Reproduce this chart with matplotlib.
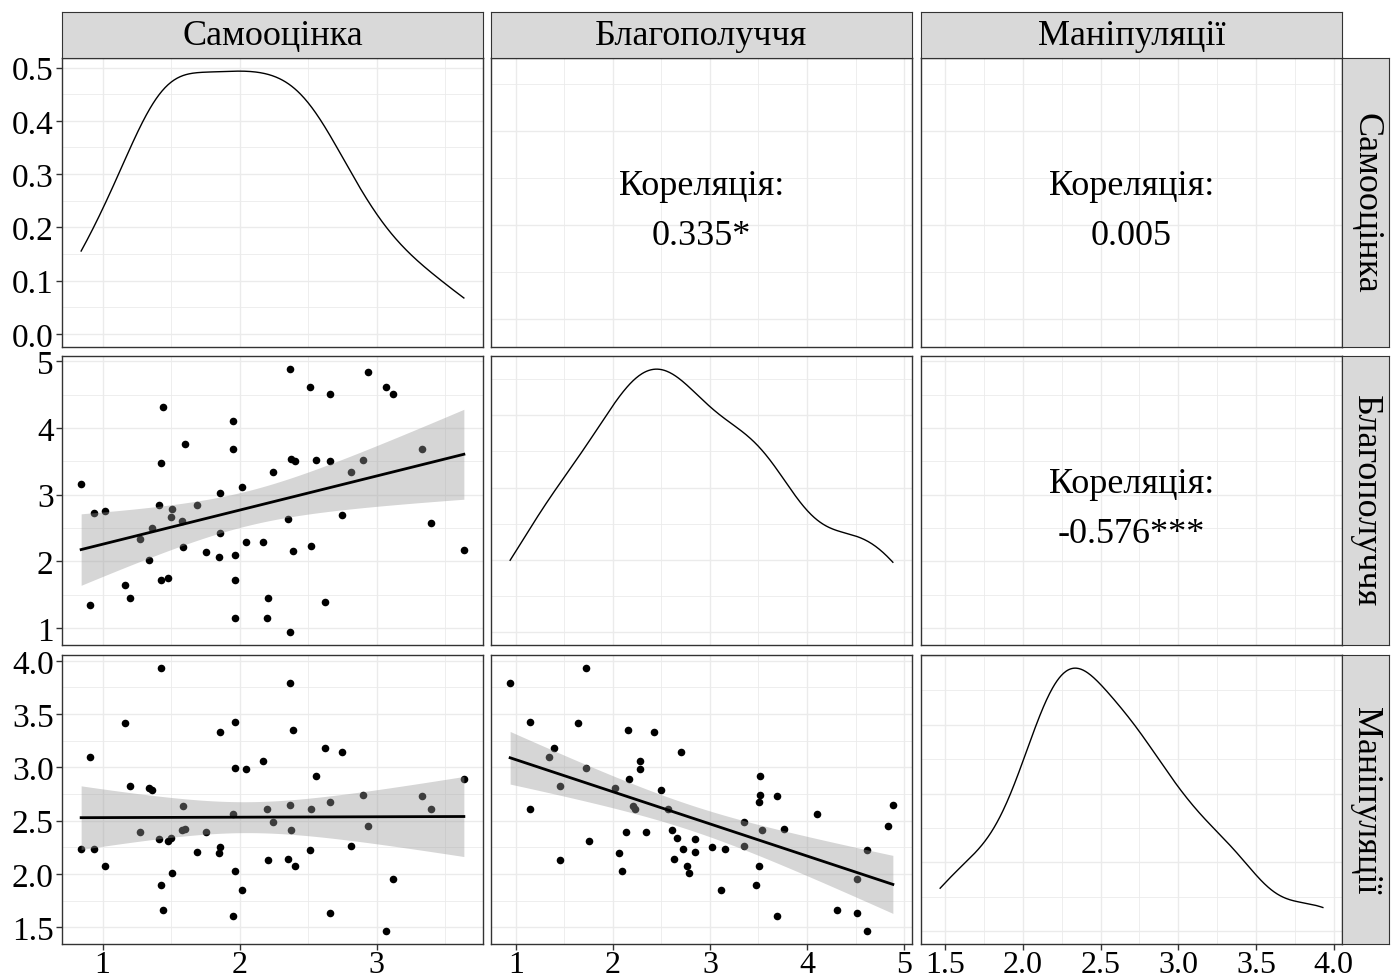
import numpy as np
import matplotlib.pyplot as plt
from matplotlib.ticker import MultipleLocator

plt.rcParams['font.family'] = ['Liberation Serif', 'DejaVu Serif']

NAMES = ["Самооцінка", "Благополуччя", "Маніпуляції"]

# one respondent per position
samoocinka = [0.844, 0.907, 0.937, 1.02, 1.166, 1.202, 1.276, 1.341, 1.359, 1.415,
              1.424, 1.424, 1.441, 1.478, 1.498, 1.507, 1.58, 1.59, 1.6, 1.69,
              1.754, 1.846, 1.854, 1.856, 1.949, 1.949, 1.966, 1.966, 1.968, 2.015,
              2.049, 2.168, 2.198, 2.205, 2.244, 2.354, 2.363, 2.363, 2.371, 2.39,
              2.4, 2.51, 2.52, 2.556, 2.622, 2.659, 2.659, 2.749, 2.812, 2.898,
              2.937, 3.063, 3.12, 3.329, 3.395, 3.634]
blagopoluchchya = [3.155, 1.336, 2.72, 2.76, 1.642, 1.451, 2.338, 2.018, 2.494, 2.85,
                   1.717, 3.476, 4.313, 1.752, 2.659, 2.779, 2.609, 2.208, 3.762, 2.85,
                   2.133, 2.058, 2.419, 3.025, 4.103, 3.687, 1.145, 1.717, 2.093, 3.115,
                   2.283, 2.283, 1.145, 1.451, 3.346, 2.629, 0.94, 4.885, 3.541, 2.153,
                   3.501, 4.614, 2.228, 3.516, 1.391, 4.519, 3.501, 2.699, 3.346, 3.516,
                   4.84, 4.614, 4.519, 3.687, 2.569, 2.168]
manipulyaciyi = [2.236, 3.098, 2.236, 2.07, 3.42, 2.828, 2.39, 2.806, 2.784, 2.327,
                 3.931, 1.892, 1.666, 2.308, 2.34, 2.011, 2.412, 2.637, 2.424, 2.202,
                 2.39, 2.199, 3.336, 2.249, 2.559, 1.61, 3.43, 2.991, 2.023, 1.845,
                 2.982, 3.063, 2.612, 2.13, 2.484, 2.142, 3.787, 2.65, 2.415, 3.348,
                 2.07, 2.224, 2.612, 2.922, 3.182, 1.632, 2.675, 3.148, 2.258, 2.744,
                 2.449, 1.466, 1.951, 2.734, 2.612, 2.888]

cor_labels = ["0.335*", "0.005", "-0.576***"]   # (1,2), (1,3), (2,3)

W, H = 1392, 979
COL_X = [62, 491, 921]
ROW_Y = [59, 357, 656]
PANEL_W, PANEL_H = 421, 289
STRIP_TOP, STRIP_H = 13, 46
STRIP_LEFT, STRIP_W = 1342, 47

GRID = '#EBEBEB'
EDGE = '#333333'
YTICK_FS = 24
XTICK_FS = 23
STRIP_FS = 26
COR_FS = 26

# major / minor steps per variable
STEPS = [(1.0, 0.5), (1.0, 0.5), (0.5, 0.25)]
DENS_STEPS = [(0.1, 0.05), (0.1, 0.05), (0.2, 0.1)]


def rect(x, y, w, h):
    return [x / W, 1 - (y + h) / H, w / W, h / H]


def expanded(values, mult=0.05):
    lo, hi = min(values), max(values)
    pad = (hi - lo) * mult
    return lo - pad, hi + pad


def kde(values, n=512):
    # gaussian kernel, bw.nrd0 as in R
    v = np.asarray(values)
    q75, q25 = np.percentile(v, [75, 25])
    bw = 0.9 * min(v.std(ddof=1), (q75 - q25) / 1.34) * len(v) ** -0.2
    grid = np.linspace(v.min(), v.max(), n)
    d = np.exp(-0.5 * ((grid[:, None] - v[None, :]) / bw) ** 2).sum(axis=1)
    return grid, d / (len(v) * bw * np.sqrt(2 * np.pi))


def lm_band(x, y, n=80, t=2.005):
    x = np.asarray(x)
    y = np.asarray(y)
    b, a = np.polyfit(x, y, 1)
    resid = y - (a + b * x)
    s = np.sqrt(resid @ resid / (len(x) - 2))
    grid = np.linspace(x.min(), x.max(), n)
    fit = a + b * grid
    se = s * np.sqrt(1 / len(x) + (grid - x.mean()) ** 2 / ((x - x.mean()) ** 2).sum())
    return grid, fit, fit - t * se, fit + t * se


def style(ax, xstep, ystep):
    ax.xaxis.set_major_locator(MultipleLocator(xstep[0]))
    ax.xaxis.set_minor_locator(MultipleLocator(xstep[1]))
    ax.yaxis.set_major_locator(MultipleLocator(ystep[0]))
    ax.yaxis.set_minor_locator(MultipleLocator(ystep[1]))
    ax.grid(which='major', color=GRID, lw=1.0, zorder=0)
    ax.grid(which='minor', color=GRID, lw=0.6, zorder=0)
    ax.set_axisbelow(True)
    for sp in ax.spines.values():
        sp.set_color(EDGE)
        sp.set_linewidth(1.0)
    ax.tick_params(which='both', length=0, labelleft=False, labelbottom=False)
    ax.tick_params(which='major', colors=EDGE, labelcolor='black')
    ax.tick_params(which='major', axis='y', labelsize=YTICK_FS, pad=2)
    ax.tick_params(which='major', axis='x', labelsize=XTICK_FS, pad=0)


data = [samoocinka, blagopoluchchya, manipulyaciyi]

fig = plt.figure(figsize=(W / 100, H / 100), dpi=100)

cor_iter = iter(cor_labels)
for i in range(3):
    for j in range(3):
        ax = fig.add_axes(rect(COL_X[j], ROW_Y[i], PANEL_W, PANEL_H))
        ax.set_xlim(*expanded(data[j]))
        if i == j:
            kx, ky = kde(data[i])
            ax.plot(kx, ky, color='black', lw=1.0, zorder=3)
            ax.set_ylim(*expanded([0, ky.max()]))
            style(ax, STEPS[j], DENS_STEPS[i])
        elif i > j:
            gx, fit, lo, hi = lm_band(data[j], data[i])
            ax.scatter(data[j], data[i], s=30, color='black', linewidths=0, zorder=2)
            ax.fill_between(gx, lo, hi, color='#999999', alpha=0.4, linewidth=0, zorder=3)
            ax.plot(gx, fit, color='black', lw=2.0, zorder=4)
            ax.set_ylim(*expanded(data[i]))
            style(ax, STEPS[j], STEPS[i])
        else:
            ax.set_ylim(*expanded(data[i]))
            style(ax, STEPS[j], STEPS[i])
            ax.text(0.5, 0.531, "Кореляція:", transform=ax.transAxes,
                    ha='center', va='baseline', fontsize=COR_FS)
            ax.text(0.5, 0.358, next(cor_iter), transform=ax.transAxes,
                    ha='center', va='baseline', fontsize=COR_FS)
        if j == 0:
            ax.tick_params(which='major', axis='y', length=4, width=1, labelleft=True)
        if i == 2:
            ax.tick_params(which='major', axis='x', length=4, width=1, labelbottom=True)

# strips
for j, name in enumerate(NAMES):
    sax = fig.add_axes(rect(COL_X[j], STRIP_TOP, PANEL_W, STRIP_H))
    sax.set_facecolor('#D9D9D9')
    sax.set_xticks([])
    sax.set_yticks([])
    for sp in sax.spines.values():
        sp.set_color(EDGE)
    sax.text(0.5, 0.5, name, ha='center', va='center', fontsize=STRIP_FS)

for i, name in enumerate(NAMES):
    sax = fig.add_axes(rect(STRIP_LEFT, ROW_Y[i], STRIP_W, PANEL_H))
    sax.set_facecolor('#D9D9D9')
    sax.set_xticks([])
    sax.set_yticks([])
    for sp in sax.spines.values():
        sp.set_color(EDGE)
    sax.text(0.5, 0.5, name, ha='center', va='center', fontsize=STRIP_FS, rotation=-90)

fig.savefig("out.png", dpi=100)
